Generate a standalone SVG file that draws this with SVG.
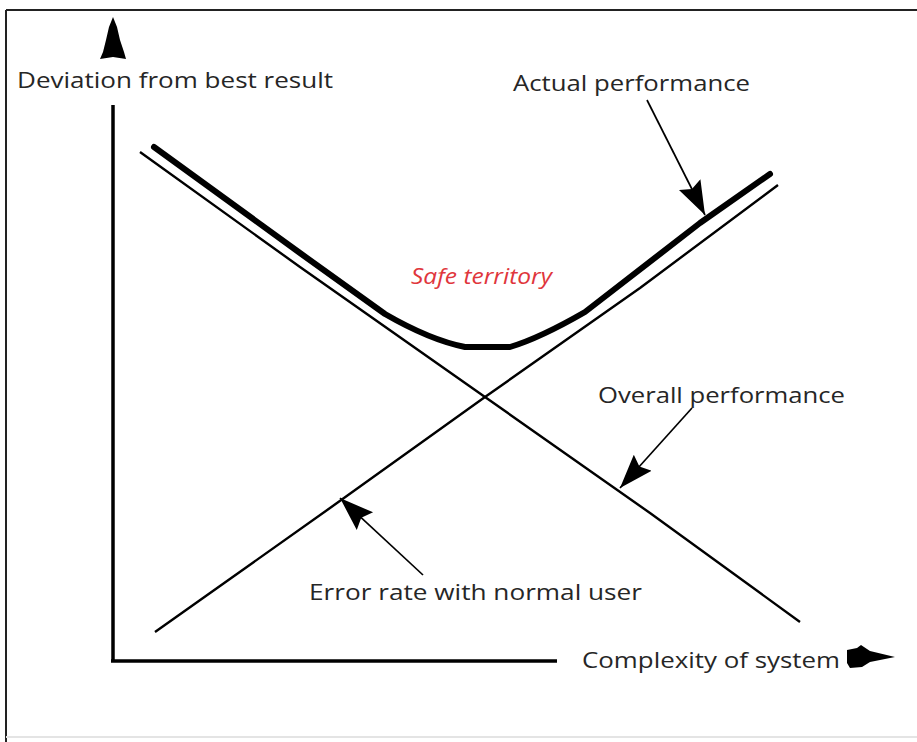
<svg xmlns="http://www.w3.org/2000/svg" width="917" height="742" viewBox="0 0 917 742">
  <style>
    .lbl { font-family: "Open Sans", "Liberation Sans", sans-serif; font-size: 22px; fill: #262626; }
    .safe { font-family: "Open Sans", "Liberation Sans", sans-serif; font-size: 21px; font-style: italic; fill: #e0363c; }
    .axis { stroke: #000; stroke-width: 3.5; fill: none; }
    .thin { stroke: #000; stroke-width: 2.4; fill: none; stroke-linejoin: round; }
    .thick { stroke: #000; stroke-width: 6; fill: none; stroke-linejoin: round; stroke-linecap: round; }
    .ptr { stroke: #000; stroke-width: 1.7; fill: none; }
    .head { fill: #000; }
  </style>
  <defs>
    <marker id="ah" markerUnits="userSpaceOnUse" markerWidth="36" markerHeight="30" refX="34" refY="14" orient="auto">
      <path d="M0,2 L34,14 L0,26 L5,14 z" fill="#000"/>
    </marker>
  </defs>
  <rect x="0" y="0" width="917" height="742" fill="#fff"/>
  <g id="frame">
    <line x1="6" y1="10" x2="917" y2="10" stroke="#222" stroke-width="2"/>
    <line x1="6" y1="10" x2="6" y2="742" stroke="#222" stroke-width="2"/>
    <line x1="6" y1="737" x2="917" y2="737" stroke="#e4e4e4" stroke-width="2"/>
  </g>
  <g id="y-axis">
    <line class="axis" x1="113" y1="105" x2="113" y2="662"/>
    <polygon class="head" points="113,17 117,27 120,40 124,52 126,59 113,57 100,59 103,52 106,40 109,27"/>
    <text class="lbl" x="17" y="88" textLength="316" lengthAdjust="spacingAndGlyphs">Deviation from best result</text>
  </g>
  <g id="x-axis">
    <line class="axis" x1="111" y1="661" x2="557" y2="661"/>
    <text class="lbl" x="582" y="668" textLength="258" lengthAdjust="spacingAndGlyphs">Complexity of system</text>
    <polygon class="head" points="847,650 857,648 861,645 870,651 895,657 870,662 862,667 850,668 847,663"/>
  </g>
  <g id="overall-performance-line">
    <polyline class="thin" points="140,152 300,267 485,397 650,513 800,622"/>
  </g>
  <g id="error-rate-line">
    <polyline class="thin" points="155,632 330,508 485,397 640,288 778,185"/>
  </g>
  <g id="actual-performance-curve">
    <path class="thick" d="M154,147 L300,253 L385,314 Q430,340 465,347 L510,347 Q540,338 585,312 L700,223 L770,174"/>
  </g>
  <g id="safe-territory">
    <text class="safe" x="411" y="284" textLength="141" lengthAdjust="spacingAndGlyphs">Safe territory</text>
  </g>
  <g id="actual-performance">
    <text class="lbl" x="513" y="91" textLength="237" lengthAdjust="spacingAndGlyphs">Actual performance</text>
  </g>
  <g id="overall-performance">
    <text class="lbl" x="598" y="403" textLength="247" lengthAdjust="spacingAndGlyphs">Overall performance</text>
  </g>
  <g id="error-rate">
    <text class="lbl" x="309" y="600" textLength="333" lengthAdjust="spacingAndGlyphs">Error rate with normal user</text>
  </g>
  <g id="connectors">
    <line class="ptr" x1="647" y1="100" x2="705" y2="215" marker-end="url(#ah)"/>
    <line class="ptr" x1="692" y1="408" x2="620" y2="488" marker-end="url(#ah)"/>
    <line class="ptr" x1="423" y1="575" x2="340" y2="498" marker-end="url(#ah)"/>
  </g>
</svg>
